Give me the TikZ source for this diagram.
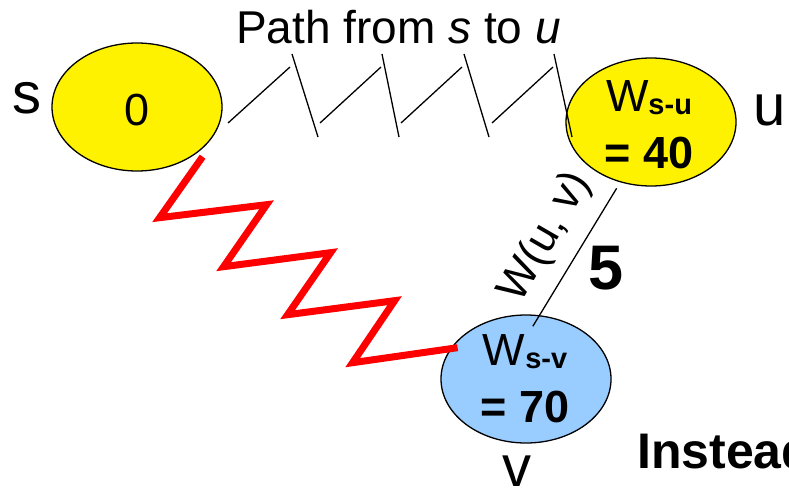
\documentclass[tikz,border=0pt]{standalone}
\usepackage{fontspec}
\setmainfont{Liberation Sans}
\usetikzlibrary{shapes.geometric,positioning,calc}

\definecolor{skyblue}{HTML}{99CCFF}
\newcommand{\wsub}[1]{W\raisebox{-3pt}{\fontsize{29}{29}\selectfont\bfseries #1}}

\begin{document}
\begin{tikzpicture}[x=1pt, y=-1pt,
    vertex/.style={draw, ellipse, line width=1.3pt, minimum width=170pt, minimum height=128pt, inner sep=0pt},
    val/.style={align=center, font=\fontsize{45}{57}\selectfont, inner sep=0pt},
    lbl/.style={font=\fontsize{58}{58}\selectfont, inner sep=0pt},
    thinline/.style={line width=1.3pt},
    redpath/.style={red, line width=7pt}
]
  \useasboundingbox (0,0) rectangle (789,493);

  % Vertices
  \node[vertex, fill=yellow] (s) at (137,107) {};
  \node[vertex, fill=yellow] (u) at (651,122) {};
  \node[vertex, fill=skyblue] (v) at (526,379) {};

  % Values inside the vertices
  \node[val] (s-val) at (137,110) {0};
  \node[val] (u-val) at (649,125) {\wsub{s-u}\\\textbf{= 40}};
  \node[val] (v-val) at (525,379) {\wsub{s-v}\\\textbf{= 70}};

  % Vertex names
  \node[lbl] (s-name) at (27,98) {s};
  \node[lbl] (u-name) at (770,110) {u};
  \node[lbl] (v-name) at (517,471) {v};

  % Path from s to u (drawn as loose strokes)
  \foreach \a/\b/\c/\d in {228/290/292/318, 320/381/382/399, 401/462/464/489, 492/553/554/572}
    \draw[thinline] (\a,123) -- (\b,67) (\c,54) -- (\d,137);
  \node[font=\fontsize{46}{46}\selectfont, anchor=base west, inner sep=0pt] (path-lbl) at (236,43) {Path from \textit{s} to \textit{u}};

  % Other path from s to v
  \draw[redpath] ($(s.323)+(5,4)$) -- ++(-43,61) -- ++(107,-13) -- ++(-43,62) -- ++(107,-14)
    -- ++(-43,62) -- ++(107,-14) -- ++(-42,62) -- ++(105,-15);

  % Edge u -> v
  \draw[thinline, shorten <=7pt, shorten >=-13pt] (u.243) -- (v.78);
  \node[font=\fontsize{44}{44}\selectfont, rotate=60, inner sep=0pt] (w-lbl) at (546,237) {W(u, v)};
  \node[font=\fontsize{63}{63}\selectfont\bfseries, inner sep=0pt] (w-val) at (606,268) {5};

  % Remark
  \node[font=\fontsize{50}{50}\selectfont\bfseries, anchor=base west, inner sep=0pt] (remark) at (637,468) {Instead};

\end{tikzpicture}
\end{document}
